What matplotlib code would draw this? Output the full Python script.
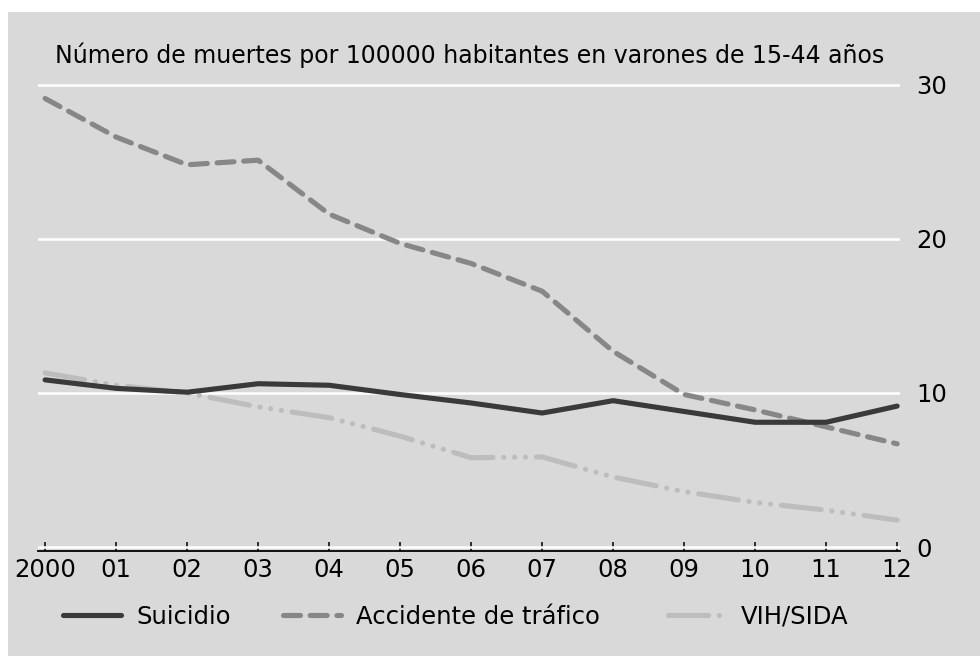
import matplotlib
matplotlib.use("Agg")
import matplotlib.pyplot as plt
from matplotlib.patches import Rectangle

years = list(range(2000, 2013))
year_labels = ["2000", "01", "02", "03", "04", "05", "06", "07", "08", "09", "10", "11", "12"]

suicidio = [10.85, 10.3, 10.05, 10.6, 10.5, 9.9, 9.35, 8.7, 9.5, 8.8, 8.1, 8.1, 9.15]
accidente = [29.1, 26.6, 24.8, 25.1, 21.6, 19.7, 18.4, 16.6, 12.7, 9.9, 8.9, 7.8, 6.7]
vih = [11.3, 10.5, 10.0, 9.1, 8.4, 7.2, 5.8, 5.85, 4.55, 3.6, 2.9, 2.4, 1.75]

y_ticks = [0, 10, 20, 30]
title = "Número de muertes por 100000 habitantes en varones de 15-44 años"

BG = "#d9d9d9"
plt.rcParams["font.family"] = ["DejaVu Sans"]

fig = plt.figure(figsize=(9.8, 6.56), dpi=100, facecolor="white")
# gray panel with a thin white margin top/left
fig.patches.append(Rectangle((8 / 980, 0), 1, 1 - 12 / 656, transform=fig.transFigure,
                             facecolor=BG, edgecolor="none", zorder=-5))

ax = fig.add_axes([38 / 980, 105 / 656, 862 / 980, 471 / 656])
ax.set_facecolor(BG)

lw = 3.7
l1, = ax.plot(years, suicidio, color="#3a3a3a", lw=lw, solid_capstyle="round",
              solid_joinstyle="round", label="Suicidio", zorder=4)
l2, = ax.plot(years, accidente, color="#878787", lw=lw, dash_capstyle="round",
              label="Accidente de tráfico", zorder=3)
l2.set_dashes([3.3, 1.9])
l3, = ax.plot(years, vih, color="#bdbdbd", lw=lw, dash_capstyle="round",
              label="VIH/SIDA", zorder=2)
l3.set_dashes([7.8, 2.1, 0.01, 2.1, 0.01, 2.1, 0.01, 2.1])

ax.set_xlim(1999.9, 2012.04)
ax.set_ylim(-0.25, 30.3)

for s in ["top", "left", "right"]:
    ax.spines[s].set_visible(False)
ax.spines["bottom"].set_color("black")
ax.spines["bottom"].set_linewidth(1.3)

ax.set_yticks(y_ticks)
ax.yaxis.tick_right()
ax.tick_params(axis="y", length=0, pad=12, labelsize=17.5)
ax.grid(axis="y", color="white", lw=1.8, zorder=1)
ax.set_axisbelow(True)

ax.set_xticks(years)
ax.set_xticklabels(year_labels)
ax.tick_params(axis="x", direction="in", length=6.5, width=1.1, pad=5, labelsize=17.5)

fig.text(470 / 980, 1 - 55 / 656, title, ha="center", va="center", fontsize=17)

# legend entries sit at uneven positions in the original, so one legend per entry
leg_x = [63, 283, 668]
for h, x in zip([l1, l2, l3], leg_x):
    lg = fig.legend(handles=[h], loc="center left", bbox_to_anchor=(x / 980, 1 - 617 / 656),
                    frameon=False, fontsize=17.5, handlelength=2.4, handletextpad=0.6,
                    borderpad=0, borderaxespad=0)

fig.savefig("out.png", dpi=100, facecolor=fig.get_facecolor())
